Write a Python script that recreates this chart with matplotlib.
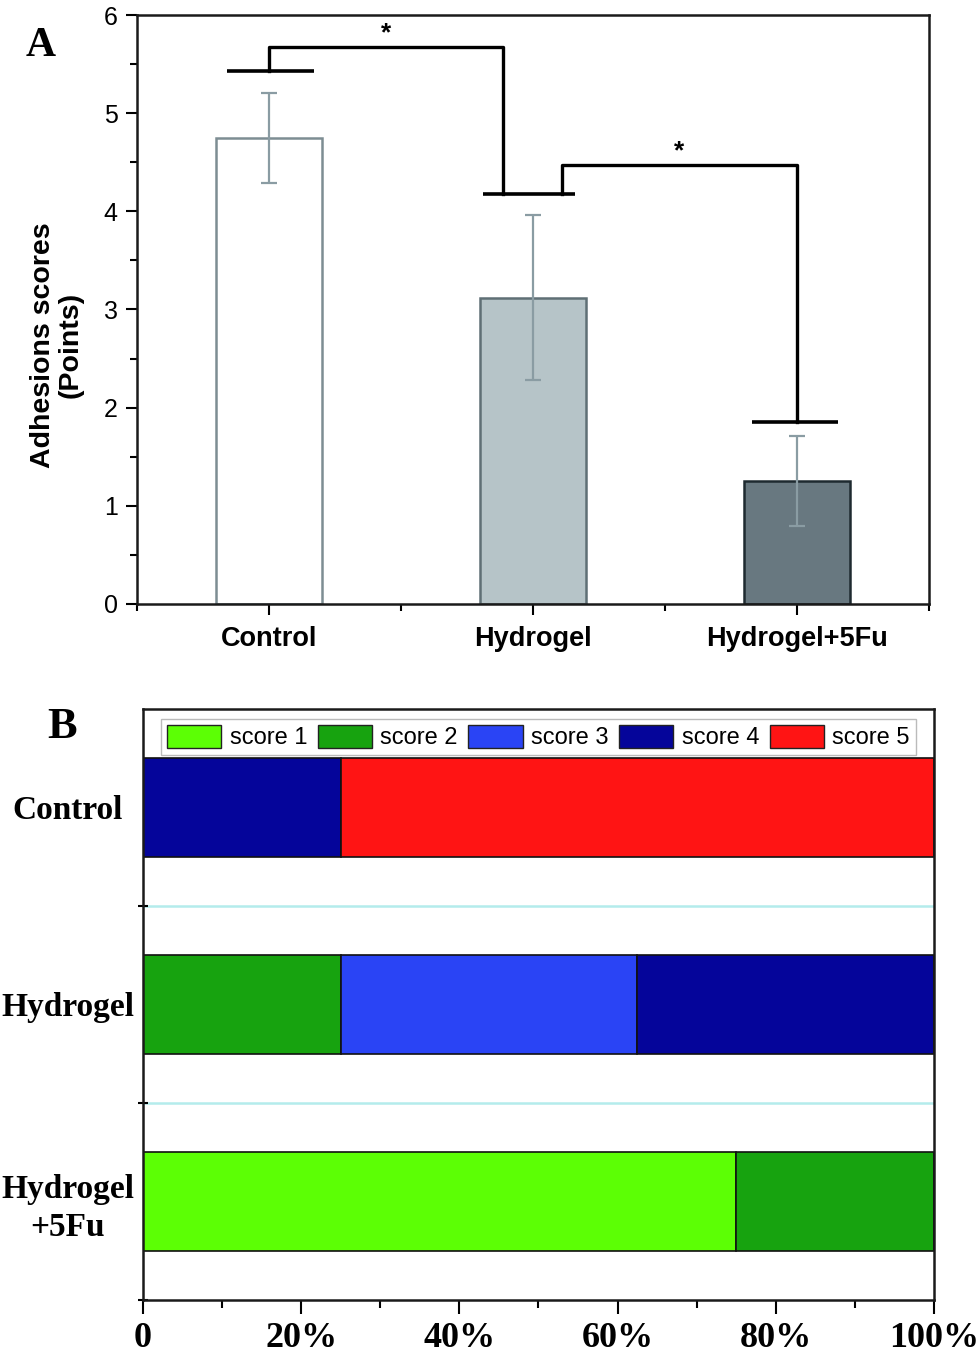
import numpy as np
import matplotlib.pyplot as plt
from matplotlib.patches import Patch

# panel A data
groups = ['Control', 'Hydrogel', 'Hydrogel+5Fu']
scores = [4.75, 3.12, 1.25]
errors = [0.46, 0.84, 0.46]
bar_colors = ['white', '#b6c4c8', '#687880']
edge_colors = ['#7d8d93', '#5f6f75', '#1e2a30']

# significance brackets: (rise x, low left, top, drop x, low right)
brackets = [(1.0, 5.43, 5.67, 1.886, 4.18), (2.11, 4.18, 4.47, 3.0, 1.85)]
# short horizontal caps under the brackets: (x from, x to, height)
caps = [(0.84, 1.17, 5.43), (1.81, 2.16, 4.18), (2.83, 3.155, 1.85)]

# panel B data (percent of animals per score)
rows = ['Control', 'Hydrogel', 'Hydrogel\n+5Fu']
score_labels = ['score 1', 'score 2', 'score 3', 'score 4', 'score 5']
pct = {
    'score 1': [0, 0, 75],
    'score 2': [0, 25, 25],
    'score 3': [0, 37.5, 0],
    'score 4': [25, 37.5, 0],
    'score 5': [75, 0, 0],
}
score_colors = ['#5cff05', '#17a30f', '#2a44f5', '#05059a', '#ff1414']
pct_ticks = [0, 20, 40, 60, 80, 100]
pct_labels = ['0', '20%', '40%', '60%', '80%', '100%']

fig = plt.figure(figsize=(9.8, 13.53), dpi=100)

# ---------- panel A ----------
ax1 = fig.add_axes([0.1398, 0.5536, 0.808, 0.4353])
x = np.arange(1, len(groups) + 1)
ax1.bar(x, scores, width=0.4, color=bar_colors, edgecolor=edge_colors,
        linewidth=1.8, zorder=2)
ax1.errorbar(x, scores, yerr=errors, fmt='none', ecolor='#8a9ca3', elinewidth=1.6,
             capsize=6, capthick=1.6, zorder=3)

for xa, ha_, top, xb, hb in brackets:
    ax1.plot([xa, xa, xb, xb], [ha_, top, top, hb], color='black', lw=2.4, zorder=4)
    ax1.text((xa + xb) / 2, top + 0.02, '*', ha='center', va='bottom',
             fontsize=19, fontweight='bold', family='Liberation Sans')
for x0, x1, h in caps:
    ax1.plot([x0, x1], [h, h], color='black', lw=2.6, solid_capstyle='butt', zorder=4)

ax1.set_xlim(0.5, 3.5)
ax1.set_ylim(0, 6)
ax1.set_xticks(x)
ax1.set_xticklabels(groups, fontsize=19.5, fontweight='bold', family='Liberation Sans')
ax1.set_xticks([0.5, 1.5, 2.5, 3.5], minor=True)
ax1.set_yticks(range(7))
ax1.set_yticklabels([str(v) for v in range(7)], fontsize=18, family='Liberation Sans')
ax1.set_yticks(np.arange(0.5, 6, 1), minor=True)
ax1.tick_params(axis='both', which='major', direction='out', length=8, width=1.5, pad=6)
ax1.tick_params(axis='both', which='minor', direction='out', length=5, width=1.5)
ax1.tick_params(axis='x', pad=8)
for s in ax1.spines.values():
    s.set_linewidth(1.8)
    s.set_color('#1a1a1a')
ax1.set_ylabel('Adhesions scores\n(Points)', fontsize=20.5, fontweight='bold',
               family='Liberation Sans', linespacing=1.1)
ax1.yaxis.set_label_coords(-0.067, 0.44)
fig.text(0.041, 0.966, 'A', fontsize=30, fontweight='bold', family='Liberation Serif',
         ha='center', va='center')

# ---------- panel B ----------
ax2 = fig.add_axes([0.1459, 0.0392, 0.8071, 0.4368])
ypos = np.arange(len(rows))
left = np.zeros(len(rows))
for lab, col in zip(score_labels, score_colors):
    vals = np.array(pct[lab])
    ax2.barh(ypos, vals, left=left, height=0.5, color=col, edgecolor='#111111',
             linewidth=1.2, zorder=2)
    left += vals

ax2.set_xlim(0, 100)
ax2.set_ylim(2.5, -0.5)
for g in [0.5, 1.5]:
    ax2.axhline(g, color='#b4ecec', lw=1.8, zorder=1)
ax2.set_yticks(ypos)
ax2.set_yticklabels(rows, fontsize=24, fontweight='bold', family='Liberation Serif',
                    linespacing=1.3, ha='center')
ax2.set_yticks([0.5, 1.5, 2.5], minor=True)
ax2.tick_params(axis='y', which='major', length=0, pad=54)
ax2.tick_params(axis='y', which='minor', direction='inout', length=7, width=1.5)
ax2.set_xticks(pct_ticks)
ax2.set_xticklabels(pct_labels, fontsize=26, fontweight='bold', family='Liberation Serif')
ax2.set_xticks(range(10, 100, 20), minor=True)
ax2.tick_params(axis='x', which='major', direction='out', length=10, width=1.5, pad=6)
ax2.tick_params(axis='x', which='minor', direction='out', length=6, width=1.5)
for s in ax2.spines.values():
    s.set_linewidth(1.8)
    s.set_color('#1a1a1a')

handles = [Patch(facecolor=c, edgecolor='#222222', label=l) for l, c in zip(score_labels, score_colors)]
ax2.legend(handles=handles, loc='upper center', bbox_to_anchor=(0.5, 0.995), ncol=5,
           prop={'family': 'Liberation Sans', 'size': 17}, frameon=True, fancybox=False,
           edgecolor='#aaaaaa', handlelength=2.3, handleheight=1.1, handletextpad=0.35,
           columnspacing=0.45, borderpad=0.25, borderaxespad=0.3)
fig.text(0.063, 0.463, 'B', fontsize=32, fontweight='bold', family='Liberation Serif',
         ha='center', va='center')

fig.savefig('out.png', dpi=100)
